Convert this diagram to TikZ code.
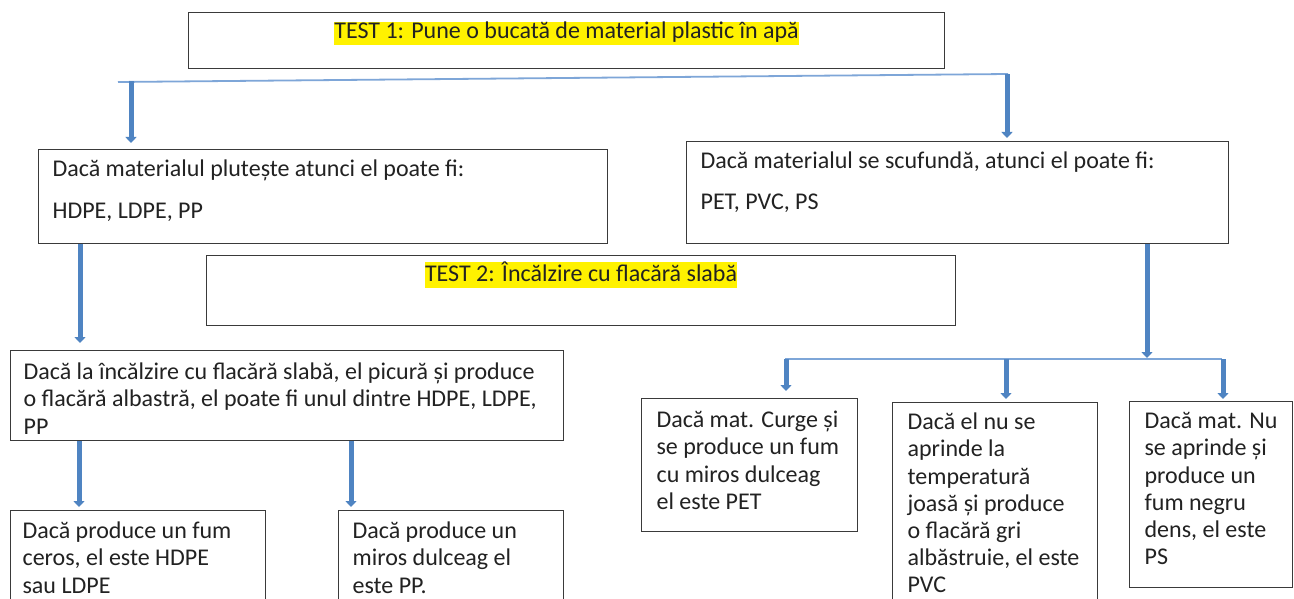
\documentclass[tikz,border=0pt]{standalone}
\usepackage{fontspec}
\setmainfont{Carlito}
\usetikzlibrary{arrows.meta}
\definecolor{boxgray}{HTML}{3A3A3A}
\definecolor{arrblue}{HTML}{4F84C2}
\definecolor{linkblue}{HTML}{7EA6D8}
\definecolor{txt}{HTML}{222222}
\newcommand\hlt[1]{{\setlength{\fboxsep}{0pt}\colorbox{yellow}{\rule[-6pt]{0pt}{20pt}#1}}}
\newcommand\bxl[4]{\parbox[c][#2][t]{#1}{\raggedright\baselineskip=27.2pt\rule{0pt}{#3}#4}}
\newcommand\bxc[3]{\parbox[c][#2][t]{#1}{\centering\baselineskip=27pt\rule{0pt}{26pt}#3}}
\newcommand\tl[1]{\mbox{#1}}
\tikzset{
  box/.style={draw=boxgray, line width=1.2pt, inner xsep=14pt, inner ysep=0pt,
    anchor=north west, rectangle, text=txt, font=\fontsize{24pt}{27pt}\selectfont},
  arr/.style={draw=arrblue, line width=5pt, -{Triangle[width=11pt,length=6pt]}},
  link/.style={draw=linkblue, line width=1.8pt},
}
\begin{document}
\begin{tikzpicture}[x=1pt,y=-1pt]
\useasboundingbox[fill=white] (0,0) rectangle (1294,599);
% boxes
\node[box] (t1) at (188,12) {\bxc{728pt}{56pt}{\hlt{TEST 1: Pune o bucată de material plastic în apă}}};
\node[box] (l1) at (38,149) {\bxl{541pt}{94pt}{27pt}{\tl{Dacă materialul plutește atunci el poate fi:}\\[15pt]\tl{HDPE, LDPE, PP}}};
\node[box] (r1) at (686,141) {\bxl{514pt}{102pt}{27pt}{\tl{Dacă materialul se scufundă, atunci el poate fi:}\\[14pt]\tl{PET, PVC, PS}}};
\node[box] (t2) at (206,255) {\bxc{721pt}{70pt}{\hlt{TEST 2: Încălzire cu flacără slabă}}};
\node[box,inner xsep=13pt] (l2) at (10,350) {\bxl{527pt}{90pt}{29pt}{\tl{Dacă la încălzire cu flacără slabă, el picură și produce}\\\tl{o flacără albastră, el poate fi unul dintre HDPE, LDPE,}\\\tl{PP}}};
\node[box,inner xsep=12pt] (l3a) at (10,510) {\bxl{231pt}{110pt}{28pt}{\tl{Dacă produce un fum}\\\tl{ceros, el este HDPE}\\\tl{sau LDPE}}};
\node[box] (l3b) at (338,510) {\bxl{197pt}{110pt}{28pt}{\tl{Dacă produce un}\\\tl{miros dulceag el}\\\tl{este PP.}}};
\node[box,inner xsep=15pt] (r2a) at (641,398) {\bxl{186pt}{133pt}{29pt}{\tl{Dacă mat. Curge și}\\\tl{se produce un fum}\\\tl{cu miros dulceag}\\\tl{el este PET}}};
\node[box,inner xsep=15pt] (r2b) at (892,402) {\bxl{175pt}{210pt}{27pt}{\tl{Dacă el nu se}\\\tl{aprinde la}\\\tl{temperatură}\\\tl{joasă și produce}\\\tl{o flacără gri}\\\tl{albăstruie, el este}\\\tl{PVC}}};
\node[box,inner xsep=15pt] (r2c) at (1129,401) {\bxl{133pt}{186pt}{27pt}{\tl{Dacă mat. Nu}\\\tl{se aprinde și}\\\tl{produce un}\\\tl{fum negru}\\\tl{dens, el este}\\\tl{PS}}};
% first split
\coordinate (h1l) at (118,82);
\coordinate (h1r) at (1008,74);
\draw[link] (h1l) -- (h1r);
\coordinate (d1) at (131,81.4);
\coordinate (d2) at (1007,74.2);
\draw[arr, shorten >=6pt] (d1) -- (d1 |- l1.north);
\draw[arr, shorten >=3pt] (d2) -- (d2 |- r1.north);
% left branch
\coordinate (xa) at (80,0);
\draw[arr, shorten >=7pt] (l1.south -| xa) -- (l2.north -| xa);
\coordinate (xb) at (79,0);
\coordinate (xc) at (351,0);
\draw[arr, shorten >=3pt] (l2.south -| xb) -- (l3a.north -| xb);
\draw[arr, shorten >=3pt] (l2.south -| xc) -- (l3b.north -| xc);
% right branch
\coordinate (j2) at (1147,358);
\draw[arr] (r1.south -| j2) -- (j2);
\coordinate (h2l) at (785,359);
\coordinate (h2r) at (1222,359);
\draw[link] (h2l) -- (h2r);
\coordinate (e1) at (786,359);
\coordinate (e2) at (1006,359);
\coordinate (e3) at (1223,359);
\draw[arr, shorten >=7pt] (e1) -- (e1 |- r2a.north);
\draw[arr, shorten >=3pt] (e2) -- (e2 |- r2b.north);
\draw[arr, shorten >=2pt] (e3) -- (e3 |- r2c.north);
\end{tikzpicture}
\end{document}
